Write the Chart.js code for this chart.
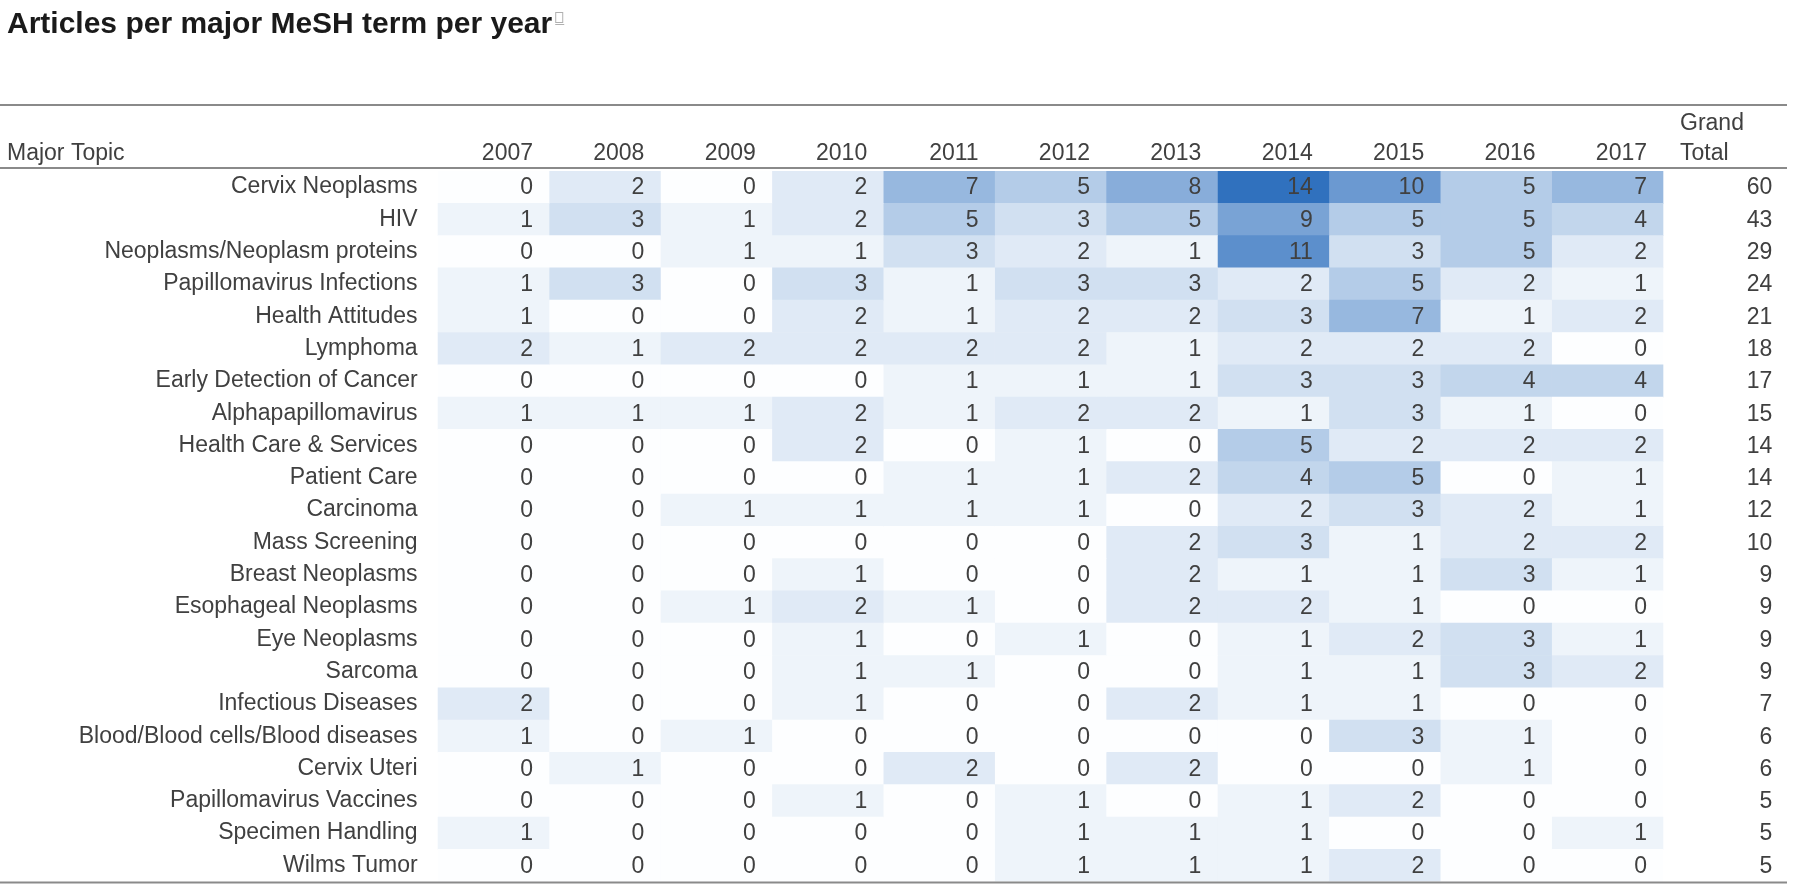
<!DOCTYPE html>
<html>
<head>
<meta charset="utf-8">
<script src="https://cdn.jsdelivr.net/npm/chart.js@4.4.1/dist/chart.umd.min.js"></script>
<style>
  html, body { margin: 0; padding: 0; background: #fff; }
  #wrap { width: 1800px; height: 887px; }
</style>
</head>
<body>
<div id="wrap"><canvas id="myChart" width="1800" height="887"></canvas></div>
<script>
// row labels (major MeSH topics)
const topics = [
  "Cervix Neoplasms", "HIV", "Neoplasms/Neoplasm proteins", "Papillomavirus Infections",
  "Health Attitudes", "Lymphoma", "Early Detection of Cancer", "Alphapapillomavirus",
  "Health Care & Services", "Patient Care", "Carcinoma", "Mass Screening",
  "Breast Neoplasms", "Esophageal Neoplasms", "Eye Neoplasms", "Sarcoma",
  "Infectious Diseases", "Blood/Blood cells/Blood diseases", "Cervix Uteri",
  "Papillomavirus Vaccines", "Specimen Handling", "Wilms Tumor"
];

// column labels
const years = ["2007", "2008", "2009", "2010", "2011", "2012", "2013", "2014", "2015", "2016", "2017"];

// article counts, one row per topic, one value per year
const counts = [
  [0, 2, 0, 2, 7, 5, 8, 14, 10, 5, 7],
  [1, 3, 1, 2, 5, 3, 5, 9, 5, 5, 4],
  [0, 0, 1, 1, 3, 2, 1, 11, 3, 5, 2],
  [1, 3, 0, 3, 1, 3, 3, 2, 5, 2, 1],
  [1, 0, 0, 2, 1, 2, 2, 3, 7, 1, 2],
  [2, 1, 2, 2, 2, 2, 1, 2, 2, 2, 0],
  [0, 0, 0, 0, 1, 1, 1, 3, 3, 4, 4],
  [1, 1, 1, 2, 1, 2, 2, 1, 3, 1, 0],
  [0, 0, 0, 2, 0, 1, 0, 5, 2, 2, 2],
  [0, 0, 0, 0, 1, 1, 2, 4, 5, 0, 1],
  [0, 0, 1, 1, 1, 1, 0, 2, 3, 2, 1],
  [0, 0, 0, 0, 0, 0, 2, 3, 1, 2, 2],
  [0, 0, 0, 1, 0, 0, 2, 1, 1, 3, 1],
  [0, 0, 1, 2, 1, 0, 2, 2, 1, 0, 0],
  [0, 0, 0, 1, 0, 1, 0, 1, 2, 3, 1],
  [0, 0, 0, 1, 1, 0, 0, 1, 1, 3, 2],
  [2, 0, 0, 1, 0, 0, 2, 1, 1, 0, 0],
  [1, 0, 1, 0, 0, 0, 0, 0, 3, 1, 0],
  [0, 1, 0, 0, 2, 0, 2, 0, 0, 1, 0],
  [0, 0, 0, 1, 0, 1, 0, 1, 2, 0, 0],
  [1, 0, 0, 0, 0, 1, 1, 1, 0, 0, 1],
  [0, 0, 0, 0, 0, 1, 1, 1, 2, 0, 0]
];

// grand total per topic
const totals = [60, 43, 29, 24, 21, 18, 17, 15, 14, 14, 12, 10, 9, 9, 9, 9, 7, 6, 6, 5, 5, 5];

const FONT = "'Liberation Sans', Arial, sans-serif";
const textColor = "#404040";
const maxCount = 14;

// white -> blue colour scale
function cellColor(v) {
  const t = v / maxCount;
  const r = Math.round(253 - t * (253 - 48));
  const g = Math.round(254 - t * (254 - 113));
  const b = Math.round(255 - t * (255 - 190));
  return `rgb(${r},${g},${b})`;
}

// one floating-bar dataset per year column
const datasets = years.map((y, j) => ({
  label: y,
  data: topics.map(() => [j, j + 1]),
  backgroundColor: counts.map(row => cellColor(row[j])),
  borderWidth: 0,
  grouped: false,
  barPercentage: 1,
  categoryPercentage: 1
}));

// draws the cell numbers, headers and the table rules
const tableText = {
  id: "tableText",
  afterDatasetsDraw(chart) {
    const ctx = chart.ctx;
    const xs = chart.scales.x;
    const ys = chart.scales.y;
    const area = chart.chartArea;
    ctx.save();

    ctx.font = `23px ${FONT}`;
    ctx.fillStyle = textColor;
    ctx.textBaseline = "middle";
    ctx.textAlign = "right";
    counts.forEach((row, i) => {
      const yp = ys.getPixelForValue(i) + 1;
      row.forEach((v, j) => {
        ctx.fillText(String(v), xs.getPixelForValue(j + 1) - 16, yp);
      });
      ctx.fillText(String(totals[i]), xs.getPixelForValue(years.length + 1) - 2, yp);
    });

    // header row
    const hy = area.top - 17;
    years.forEach((y, j) => {
      ctx.fillText(y, xs.getPixelForValue(j + 1) - 16, hy);
    });
    ctx.textAlign = "left";
    ctx.fillText("Major Topic", 7, hy);
    const gx = xs.getPixelForValue(years.length) + 17;
    ctx.fillText("Grand", gx, hy - 30);
    ctx.fillText("Total", gx, hy);

    // rules
    ctx.strokeStyle = "#8a8a8a";
    ctx.lineWidth = 2;
    [area.top - 66, area.top - 3, area.bottom + 1].forEach(ly => {
      ctx.beginPath();
      ctx.moveTo(0, ly);
      ctx.lineTo(1787, ly);
      ctx.stroke();
    });

    // small footnote icon after the title
    ctx.font = `bold 30px ${FONT}`;
    const tw = ctx.measureText("Articles per major MeSH term per year").width;
    ctx.strokeStyle = "#b0b0b0";
    ctx.lineWidth = 1;
    ctx.strokeRect(7 + tw + 3.5, 12.5, 7, 10);
    ctx.beginPath();
    ctx.moveTo(7 + tw + 3, 24.5);
    ctx.lineTo(7 + tw + 12, 24.5);
    ctx.stroke();

    ctx.restore();
  }
};

const myChart = new Chart("myChart", {
  type: "bar",
  data: {
    labels: topics,
    datasets: datasets
  },
  options: {
    indexAxis: "y",
    responsive: false,
    animation: false,
    events: [],
    layout: {
      padding: { left: 7, right: 25.6, top: 0, bottom: 5.4 }
    },
    scales: {
      x: {
        type: "linear",
        min: 0,
        max: years.length + 1,
        display: false
      },
      y: {
        type: "category",
        offset: true,
        grid: { display: false, drawTicks: false },
        border: { display: false },
        ticks: {
          color: textColor,
          padding: 20,
          font: { family: FONT, size: 23 }
        },
        afterFit(scale) {
          scale.width = 430.6;
          scale.paddingTop = 0;
          scale.paddingBottom = 0;
        }
      }
    },
    plugins: {
      legend: { display: false },
      tooltip: { enabled: false },
      title: {
        display: true,
        text: "Articles per major MeSH term per year",
        align: "start",
        color: "#1a1a1a",
        font: { family: FONT, size: 30, weight: "bold" },
        padding: { top: 7, bottom: 128 }
      }
    }
  },
  plugins: [tableText]
});
</script>
</body>
</html>
